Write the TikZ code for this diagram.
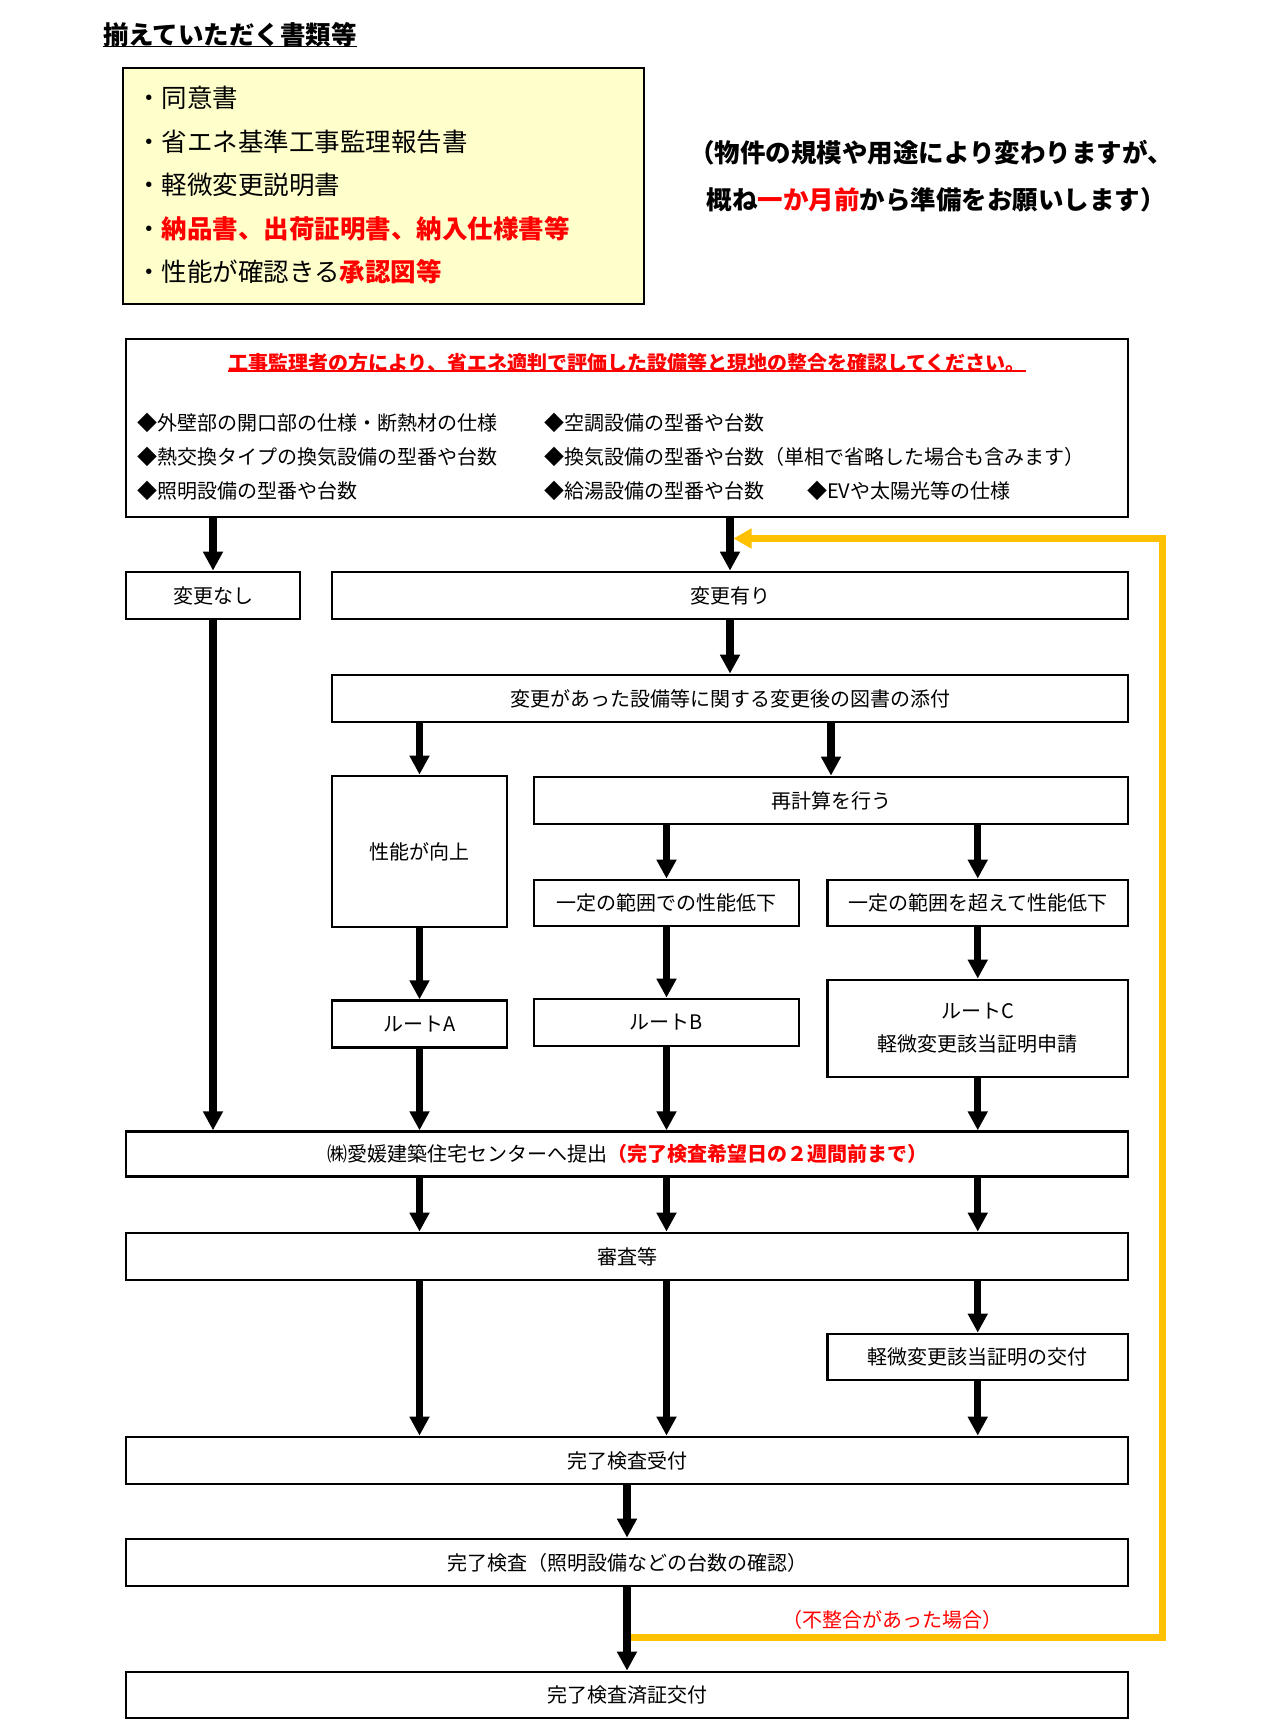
\documentclass[tikz,border=0pt]{standalone}
\usepackage{fontspec}
\setmainfont{Noto Sans CJK JP}
\usetikzlibrary{arrows.meta}
\definecolor{jred}{RGB}{255,0,0}
\definecolor{jyel}{RGB}{255,192,0}
\definecolor{pale}{RGB}{255,255,204}
\newcommand\jfs[1]{\fontsize{#1pt}{#1pt}\selectfont}
\begin{document}
\begin{tikzpicture}[x=1pt,y=-1pt,
  bx/.style={draw,line width=2.8pt,inner sep=0pt,font=\jfs{20},align=center},
  arr/.style={line width=7.3pt,-{Triangle[width=19pt,length=19pt]}},
  yarr/.style={line width=7pt,draw=jyel,line join=miter,-{Triangle[width=19pt,length=18pt,fill=jyel]}},
  lst/.style={anchor=west,inner sep=0pt,font=\jfs{20}},
  yl/.style={anchor=west,inner sep=0pt,font=\jfs{25.5}},
  note/.style={inner sep=0pt,font=\jfs{25.5}\bfseries}]
\useasboundingbox[fill=white] (0,0) rectangle (1275,1733);

% title
\node[inner sep=0pt,font=\jfs{25.5}\bfseries] (title) at (230,35) {揃えていただく書類等};
\draw[line width=1.8pt] (title.south west) ++(0,-1) coordinate (tl) (tl) -- (tl -| title.south east);

% yellow box
\node[draw,line width=2.8pt,fill=pale,minimum width=521pt,minimum height=236pt,inner sep=0pt] (ybox) at (383.5,186) {};
\node[yl] (y1) at (136,98.3) {・同意書};
\node[yl] (y2) at (136,141.7) {・省エネ基準工事監理報告書};
\node[yl] (y3) at (136,185) {・軽微変更説明書};
\node[yl] (y4) at (136,228.3) {・\textcolor{jred}{\bfseries 納品書、出荷証明書、納入仕様書等}};
\node[yl] (y5) at (136,271.7) {・性能が確認きる\textcolor{jred}{\bfseries 承認図等}};

% note
\node[note] (n1) at (931,153) {（物件の規模や用途により変わりますが、};
\node[note] (n2) at (936,200) {概ね\textcolor{jred}{一か月前}から準備をお願いします）};

% main box
\node[bx,minimum width=1002pt,minimum height=178pt] (main) at (627,428) {};
\node[inner sep=0pt,font=\jfs{20}\bfseries,text=jred] (mt) at (627,363) {工事監理者の方により、省エネ適判で評価した設備等と現地の整合を確認してください。};
\draw[jred,line width=1.8pt] (mt.south west) ++(0,-2) coordinate (ml) (ml) -- (ml -| mt.south east);
\node[lst] (l11) at (137,423) {◆外壁部の開口部の仕様・断熱材の仕様};
\node[lst] (l12) at (544,423) {◆空調設備の型番や台数};
\node[lst] (l21) at (137,457) {◆熱交換タイプの換気設備の型番や台数};
\node[lst] (l22) at (544,457) {◆換気設備の型番や台数（単相で省略した場合も含みます）};
\node[lst] (l31) at (137,491) {◆照明設備の型番や台数};
\node[lst] (l32) at (544,491) {◆給湯設備の型番や台数};
\node[lst] (l33) at (807,491) {◆EVや太陽光等の仕様};

% flow boxes
\node[bx,minimum width=174pt,minimum height=47pt] (nashi) at (213,595.5) {変更なし};
\node[bx,minimum width=796pt,minimum height=47pt] (ari) at (730,595.5) {変更有り};
\node[bx,minimum width=796pt,minimum height=47pt] (tenpu) at (730,698.5) {変更があった設備等に関する変更後の図書の添付};
\node[bx,minimum width=175pt,minimum height=151pt] (koujou) at (419.5,851.5) {性能が向上};
\node[bx,minimum width=594pt,minimum height=47pt] (saikei) at (831,800.5) {再計算を行う};
\node[bx,minimum width=265pt,minimum height=46pt] (teika1) at (666.5,903) {一定の範囲での性能低下};
\node[bx,minimum width=300.5pt,minimum height=46pt] (teika2) at (977.75,903) {一定の範囲を超えて性能低下};
\node[bx,minimum width=175pt,minimum height=46.6pt] (routeA) at (419.5,1024) {ルートA};
\node[bx,minimum width=265pt,minimum height=47pt] (routeB) at (666.5,1022.5) {ルートB};
\node[bx,minimum width=300.5pt,minimum height=97pt,font=\fontsize{20pt}{33pt}\selectfont] (routeC) at (977.75,1028.5) {ルートC\\軽微変更該当証明申請};
\node[bx,minimum width=1002pt,minimum height=45pt] (teishutsu) at (627,1154.2) {㈱愛媛建築住宅センターへ提出\textcolor{jred}{\bfseries （完了検査希望日の２週間前まで）}};
\node[bx,minimum width=1002pt,minimum height=47pt] (shinsa) at (627,1256.5) {審査等};
\node[bx,minimum width=300.5pt,minimum height=46pt] (koufu) at (977.75,1357) {軽微変更該当証明の交付};
\node[bx,minimum width=1002pt,minimum height=47pt] (uketsuke) at (627,1460.5) {完了検査受付};
\node[bx,minimum width=1002pt,minimum height=47pt] (kensa) at (627,1562.5) {完了検査（照明設備などの台数の確認）};
\node[bx,minimum width=1002pt,minimum height=46pt] (zumi) at (627,1695) {完了検査済証交付};

% arrows
\draw[arr] (main.south -| nashi) -- (nashi.north);
\draw[arr] (main.south -| ari) -- (ari.north);
\draw[arr] (nashi.south) -- (teishutsu.north -| nashi);
\draw[arr] (ari.south) -- (tenpu.north);
\draw[arr] (tenpu.south -| koujou) -- (koujou.north);
\draw[arr] (tenpu.south -| saikei) -- (saikei.north);
\draw[arr] (saikei.south -| teika1) -- (teika1.north);
\draw[arr] (saikei.south -| teika2) -- (teika2.north);
\draw[arr] (koujou.south) -- (routeA.north);
\draw[arr] (teika1.south) -- (routeB.north);
\draw[arr] (teika2.south) -- (routeC.north);
\draw[arr] (routeA.south) -- (teishutsu.north -| routeA);
\draw[arr] (routeB.south) -- (teishutsu.north -| routeB);
\draw[arr] (routeC.south) -- (teishutsu.north -| routeC);
\draw[arr] (teishutsu.south -| routeA) -- (shinsa.north -| routeA);
\draw[arr] (teishutsu.south -| routeB) -- (shinsa.north -| routeB);
\draw[arr] (teishutsu.south -| routeC) -- (shinsa.north -| routeC);
\draw[arr] (shinsa.south -| routeA) -- (uketsuke.north -| routeA);
\draw[arr] (shinsa.south -| routeB) -- (uketsuke.north -| routeB);
\draw[arr] (shinsa.south -| koufu) -- (koufu.north);
\draw[arr] (koufu.south) -- (uketsuke.north -| koufu);
\draw[arr] (uketsuke.south) -- (kensa.north);
\draw[arr] (kensa.south) -- (zumi.north);

% feedback loop
\coordinate (yA) at (630.5,1637);
\coordinate (yB) at (1162.5,1637);
\coordinate (yC) at (1162.5,538.5);
\coordinate (yD) at (733.5,538.5);
\draw[yarr] (yA) -- (yB) -- (yC) -- (yD);
\node[inner sep=0pt,font=\jfs{20},text=jred] (fu) at (892,1620) {（不整合があった場合）};
\end{tikzpicture}
\end{document}
